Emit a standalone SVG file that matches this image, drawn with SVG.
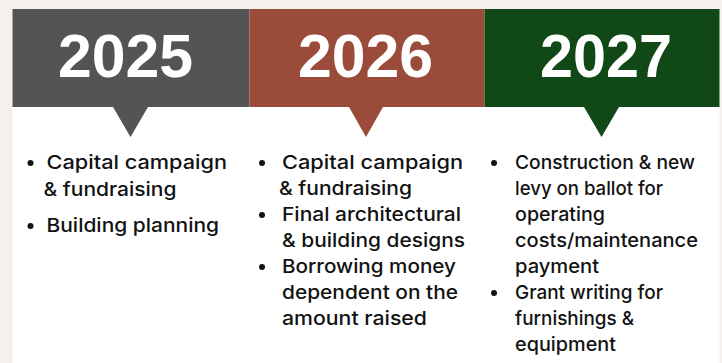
<svg xmlns="http://www.w3.org/2000/svg" width="722" height="363" viewBox="0 0 722 363">
<style>
.year{font-family:"Liberation Sans",Arial,sans-serif;font-weight:700;font-size:61px;fill:#fff;text-anchor:middle}
.body{font-family:Inter,"Noto Sans",sans-serif;font-weight:500;font-size:19px;fill:#121212}
.dot{fill:#121212}
</style>
<rect x="0" y="0" width="722" height="363" fill="#f4f1ec"/>
<rect x="12.5" y="9" width="707" height="354" fill="#ffffff"/>
<g id="connectors"/>
<g id="col2025">
<rect x="12.5" y="9" width="237" height="98" fill="#545454"/>
<polygon points="113,107 148,107 130.5,137" fill="#545454"/>
<text class="year" x="125.5" y="77" textLength="135" lengthAdjust="spacingAndGlyphs">2025</text>
<circle class="dot" cx="30.5" cy="163" r="3"/>
<text class="body" x="46.5" y="169" textLength="180.5" lengthAdjust="spacingAndGlyphs">Capital campaign</text>
<text class="body" x="43.5" y="196" textLength="133" lengthAdjust="spacingAndGlyphs">&amp; fundraising</text>
<circle class="dot" cx="30.5" cy="226" r="3"/>
<text class="body" x="46.5" y="232" textLength="172.5" lengthAdjust="spacingAndGlyphs">Building planning</text>
</g>
<g id="col2026">
<rect x="249.5" y="9" width="235" height="98" fill="#9b4b3a"/>
<polygon points="349,107 383,107 366,137" fill="#9b4b3a"/>
<text class="year" x="365.5" y="77" textLength="135" lengthAdjust="spacingAndGlyphs">2026</text>
<circle class="dot" cx="262" cy="163" r="3"/>
<text class="body" x="282" y="169" textLength="181" lengthAdjust="spacingAndGlyphs">Capital campaign</text>
<text class="body" x="279" y="195" textLength="133" lengthAdjust="spacingAndGlyphs">&amp; fundraising</text>
<circle class="dot" cx="262" cy="215" r="3"/>
<text class="body" x="282" y="221" textLength="179" lengthAdjust="spacingAndGlyphs">Final architectural</text>
<text class="body" x="282" y="247" textLength="183" lengthAdjust="spacingAndGlyphs">&amp; building designs</text>
<circle class="dot" cx="262" cy="267" r="3"/>
<text class="body" x="282" y="273" textLength="174" lengthAdjust="spacingAndGlyphs">Borrowing money</text>
<text class="body" x="282" y="299" textLength="176" lengthAdjust="spacingAndGlyphs">dependent on the</text>
<text class="body" x="282" y="325" textLength="145" lengthAdjust="spacingAndGlyphs">amount raised</text>
</g>
<g id="col2027">
<rect x="484.5" y="9" width="235" height="98" fill="#114818"/>
<polygon points="584,107 619,107 601.5,137" fill="#114818"/>
<text class="year" x="606" y="77" textLength="132" lengthAdjust="spacingAndGlyphs">2027</text>
<circle class="dot" cx="494" cy="163" r="3"/>
<text class="body" x="515" y="169" textLength="180" lengthAdjust="spacingAndGlyphs">Construction &amp; new</text>
<text class="body" x="515" y="195" textLength="148" lengthAdjust="spacingAndGlyphs">levy on ballot for</text>
<text class="body" x="515" y="221" textLength="90" lengthAdjust="spacingAndGlyphs">operating</text>
<text class="body" x="515" y="247" textLength="183" lengthAdjust="spacingAndGlyphs">costs/maintenance</text>
<text class="body" x="515" y="273" textLength="84" lengthAdjust="spacingAndGlyphs">payment</text>
<circle class="dot" cx="494" cy="293" r="3"/>
<text class="body" x="515" y="299" textLength="148" lengthAdjust="spacingAndGlyphs">Grant writing for</text>
<text class="body" x="515" y="325" textLength="119" lengthAdjust="spacingAndGlyphs">furnishings &amp;</text>
<text class="body" x="515" y="351" textLength="101" lengthAdjust="spacingAndGlyphs">equipment</text>
</g>
</svg>
